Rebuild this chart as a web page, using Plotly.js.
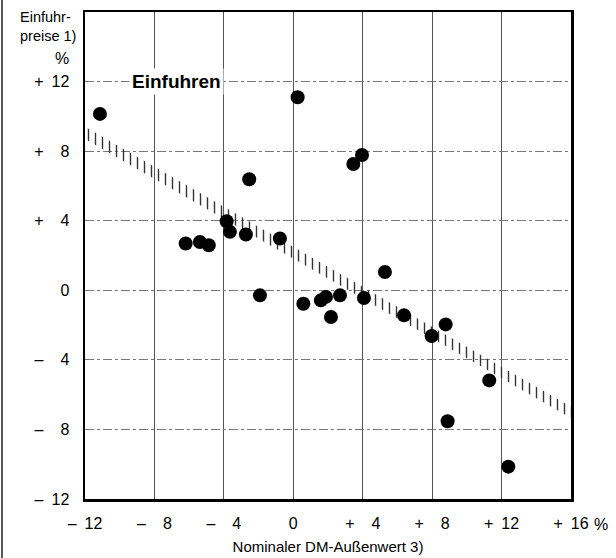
<!DOCTYPE html>
<html>
<head>
<meta charset="utf-8">
<script src="https://cdn.plot.ly/plotly-3.0.1.min.js"></script>
<style>html,body{margin:0;padding:0;background:#fff;}</style>
</head>
<body>
<div id="chart" style="width:616px;height:558px;"></div>
<script>
// Scatter data: nominal DM external value (x, %) vs import prices (y, %)
var dmValue = [-11.14, 0.25, -2.54, -3.84, -3.65, -2.73, -0.77, -6.2, -5.38, -4.87,
               -1.92, 0.58, 1.59, 1.88, 2.17, 2.69, 4.07, 5.28, 6.38, 7.97,
               8.78, 3.96, 3.46, 11.29, 8.89, 12.39];
var importPrices = [10.14, 11.1, 6.38, 3.97, 3.36, 3.21, 2.98, 2.69, 2.78, 2.59,
                    -0.29, -0.77, -0.58, -0.38, -1.54, -0.29, -0.44, 1.05, -1.44, -2.63,
                    -1.96, 7.78, 7.26, -5.18, -7.53, -10.14];

// Hatched trend band (upper / lower edge at x = -12 and x = 16)
var trendX = [-12, 16];
var trendUpper = [9.4, -6.7];
var trendLower = [8.7, -7.35];

// Tick labels
var xTickVals = [-12, -8, -4, 0, 4, 8, 12, 16];
var xTickText = ['\u2013\u200212', '\u2013\u2002\u20078', '\u2013\u2002\u20074', '0',
                 '+\u2002\u20074', '+\u2002\u20078', '+\u200212', '+\u200216'];
var yTickVals = [-12, -8, -4, 0, 4, 8, 12];
var yTickText = ['\u2013\u200212', '\u2013\u2002\u20078', '\u2013\u2002\u20074', '0',
                 '+\u2002\u20074', '+\u2002\u20078', '+\u200212'];

var FONT = '"Liberation Sans", Arial, Helvetica, sans-serif';

var traces = [
  {
    x: trendX, y: trendUpper, type: 'scatter', mode: 'lines',
    line: {width: 0, color: 'rgba(0,0,0,0)'}, hoverinfo: 'skip', showlegend: false
  },
  {
    x: trendX, y: trendLower, type: 'scatter', mode: 'lines',
    line: {width: 0, color: 'rgba(0,0,0,0)'}, fill: 'tonexty',
    fillcolor: 'rgba(0,0,0,0)',
    fillpattern: {shape: '|', size: 7, solidity: 0.2, fgcolor: '#333', bgcolor: 'rgba(0,0,0,0)'},
    hoverinfo: 'skip', showlegend: false
  },
  {
    x: dmValue, y: importPrices, type: 'scatter', mode: 'markers',
    marker: {size: 14, color: '#000', line: {width: 0}}, showlegend: false
  }
];

var layout = {
  width: 616, height: 558,
  margin: {l: 85, r: 45, t: 12, b: 59},
  paper_bgcolor: '#fff', plot_bgcolor: '#fff',
  font: {family: FONT, size: 16, color: '#000'},
  showlegend: false,
  xaxis: {
    range: [-12, 16], tickvals: xTickVals, ticktext: xTickText,
    ticks: 'outside', ticklen: 8, tickcolor: 'rgba(0,0,0,0)',
    tickfont: {family: FONT, size: 16, color: '#000'},
    showgrid: true, gridcolor: '#555', gridwidth: 1,
    zeroline: false, showline: true, linecolor: '#000', linewidth: 2.5, mirror: true,
    fixedrange: true, automargin: false,
    title: {text: 'Nominaler DM-Au\u00dfenwert 3)', font: {family: FONT, size: 15, color: '#000'}, standoff: 11}
  },
  yaxis: {
    range: [-12, 16], tickvals: yTickVals, ticktext: yTickText,
    ticks: 'outside', ticklen: 10, tickcolor: 'rgba(0,0,0,0)',
    tickfont: {family: FONT, size: 16, color: '#000'},
    showgrid: true, gridcolor: '#777', gridwidth: 1, griddash: 'dashdot',
    zeroline: false, showline: true, linecolor: '#000', linewidth: 2.5, mirror: true,
    fixedrange: true, automargin: false
  },
  shapes: [
    {type: 'line', xref: 'paper', yref: 'paper', x0: -0.1708, x1: -0.1708, y0: -0.13, y1: 1.03,
     line: {color: '#222', width: 1.5}}
  ],
  annotations: [
    {text: 'Einfuhr-<br>preise 1)', xref: 'paper', yref: 'paper', x: -0.138, y: 1.01,
     xanchor: 'left', yanchor: 'top', align: 'left', showarrow: false,
     font: {family: FONT, size: 14.5, color: '#000'}},
    {text: '%', xref: 'paper', yref: 'paper', x: -0.0288, y: 0.9035,
     xanchor: 'right', yanchor: 'middle', showarrow: false,
     font: {family: FONT, size: 16, color: '#000'}},
    {text: '<b>Einfuhren</b>', xref: 'x', yref: 'y', x: -9.45, y: 12,
     xanchor: 'left', yanchor: 'middle', showarrow: false, bgcolor: '#fff', borderpad: 2,
     font: {family: FONT, size: 19, color: '#000'}},
    {text: '%', xref: 'paper', yref: 'paper', x: 1.043, y: -0.0524,
     xanchor: 'left', yanchor: 'middle', showarrow: false,
     font: {family: FONT, size: 16, color: '#000'}}
  ]
};

Plotly.newPlot('chart', traces, layout, {displayModeBar: false, staticPlot: true});
</script>
</body>
</html>
